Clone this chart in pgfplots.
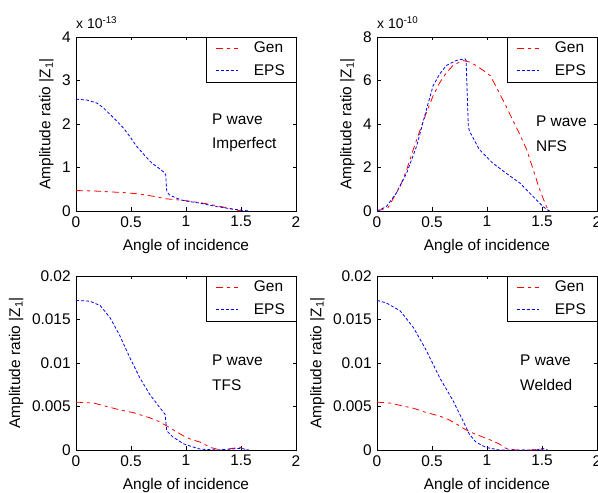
\documentclass[border=0pt]{standalone}
\usepackage{pgfplots}
\pgfplotsset{compat=1.18}
\usepackage{fontspec}
\setmainfont{Liberation Sans}
\newcommand{\fs}{\fontsize{15.5}{18}\selectfont}
\begin{document}
\fs
\begin{tikzpicture}[x=1bp,y=1bp]
\useasboundingbox (0,0) rectangle (598,493);
\tikzset{
  ann/.style={font=\fs, anchor=west, inner sep=0pt},
  expo/.style={anchor=base west, inner sep=0pt, font=\fontsize{14}{16}\selectfont, yshift=8bp},
}
\pgfplotsset{
  gen/.style={color=red, line width=0.8bp, dash pattern=on 7bp off 4bp on 3bp off 4bp},
  eps/.style={color=blue, line width=0.8bp, dash pattern=on 3bp off 2bp},
  legend image code/.code={\draw[#1] (0bp,0.5bp) -- (22bp,0.5bp);},
  myax/.style={
    width=220bp, height=174bp, scale only axis, anchor=south west, clip=false,
    xmin=0, xmax=2, xtick={0,0.5,1,1.5,2}, ymin=0,
    tick align=inside, major tick length=3.5bp, tick pos=both,
    axis line style={black, line width=0.6bp}, tick style={black, line width=0.6bp},
    every tick label/.append style={font=\fs},
    label style={font=\fs},
    /pgf/number format/assume math mode=true,
    xlabel={Angle of incidence},
    ylabel={Amplitude ratio |Z\textsubscript{1}|},
    xlabel style={yshift=-2bp},
    ylabel style={yshift=-2bp},
    legend style={at={(1,1)}, anchor=north east,
      font=\fs, cells={anchor=west}, inner xsep=9bp, inner ysep=3bp, row sep=5bp,
      column sep=14bp},
  },
}
% Top-left: Imperfect
\begin{axis}[myax, at={(76bp,282bp)}, ymax=4, ytick={0,1,2,3,4}]
\addplot[gen] coordinates {(0,0.47) (0.16,0.46) (0.31,0.44) (0.45,0.42) (0.58,0.39) (0.7,0.34) (0.82,0.28) (0.95,0.25) (1.05,0.22) (1.13,0.19) (1.2,0.16) (1.28,0.12) (1.36,0.08) (1.43,0.04) (1.5,0.0)};
\addlegendentry{Gen}
\addplot[eps] coordinates {(0,2.57) (0.1,2.55) (0.19,2.48) (0.25,2.37) (0.31,2.22) (0.37,2.07) (0.43,1.91) (0.49,1.71) (0.55,1.49) (0.62,1.29) (0.69,1.10) (0.75,0.99) (0.79,0.91) (0.815,0.84) (0.825,0.45) (0.85,0.37) (0.9,0.31) (0.96,0.25) (1.05,0.21) (1.13,0.18) (1.2,0.14) (1.28,0.10) (1.36,0.07) (1.43,0.04) (1.5,0.02) (1.57,0.0)};
\addlegendentry{EPS}
\node[ann] at (1.236,2.10) {P wave};
\node[ann] at (1.236,1.53) {Imperfect};
\node[expo] at (rel axis cs:0,1) {x 10\textsuperscript{-13}};
\end{axis}
% Top-right: NFS
\begin{axis}[myax, at={(377bp,282bp)}, ymax=8, ytick={0,2,4,6,8}]
\addplot[gen] coordinates {(0,0) (0.1,0.15) (0.21,1.13) (0.27,1.9) (0.33,2.83) (0.39,3.7) (0.45,4.53) (0.51,5.3) (0.57,5.9) (0.63,6.35) (0.69,6.69) (0.78,6.92) (0.84,6.85) (0.9,6.69) (0.97,6.45) (1.03,6.22) (1.11,5.45) (1.17,4.85) (1.23,4.22) (1.3,3.5) (1.36,2.83) (1.42,1.9) (1.48,0.97) (1.54,0.2) (1.57,0)};
\addlegendentry{Gen}
\addplot[eps] coordinates {(0,0) (0.085,0.2) (0.175,0.82) (0.27,1.75) (0.36,2.98) (0.45,4.68) (0.51,5.76) (0.57,6.3) (0.63,6.69) (0.72,6.92) (0.8,7.0) (0.81,6.92) (0.83,3.9) (0.84,3.68) (0.93,2.83) (1.05,2.21) (1.17,1.75) (1.3,1.28) (1.42,0.66) (1.51,0.2) (1.55,0.05) (1.57,0)};
\addlegendentry{EPS}
\node[ann] at (1.445,4.12) {P wave};
\node[ann] at (1.445,2.96) {NFS};
\node[expo] at (rel axis cs:0,1) {x 10\textsuperscript{-10}};
\end{axis}
% Bottom-left: TFS
\begin{axis}[myax, at={(76bp,43bp)}, ymax=0.02, ytick={0,0.005,0.01,0.015,0.02},
  scaled y ticks=false, yticklabel style={/pgf/number format/fixed, /pgf/number format/precision=3}]
\addplot[gen] coordinates {(0,0.0055) (0.16,0.0054) (0.31,0.0049) (0.4,0.0046) (0.52,0.0043) (0.67,0.0037) (0.75,0.0033) (0.82,0.0028) (0.9,0.0022) (0.98,0.0016) (1.05,0.0012) (1.13,0.0009) (1.22,0.0003) (1.31,0.0) (1.43,0.0002) (1.49,0.0003) (1.55,0.0)};
\addlegendentry{Gen}
\addplot[eps] coordinates {(0,0.0172) (0.127,0.0171) (0.22,0.0166) (0.31,0.0152) (0.4,0.0131) (0.49,0.0106) (0.58,0.0083) (0.67,0.0064) (0.76,0.0049) (0.81,0.0041) (0.825,0.0022) (0.88,0.0015) (0.98,0.0007) (1.05,0.0004) (1.13,0.0001) (1.28,0.0) (1.4,0.0001) (1.5,0.0002) (1.57,0.0)};
\addlegendentry{EPS}
\node[ann] at (1.236,0.0103) {P wave};
\node[ann] at (1.236,0.00743) {TFS};
\end{axis}
% Bottom-right: Welded
\begin{axis}[myax, at={(377bp,43bp)}, ymax=0.02, ytick={0,0.005,0.01,0.015,0.02},
  scaled y ticks=false, yticklabel style={/pgf/number format/fixed, /pgf/number format/precision=3}]
\addplot[gen] coordinates {(0,0.0055) (0.115,0.0054) (0.22,0.0051) (0.33,0.0048) (0.45,0.0043) (0.57,0.0039) (0.65,0.0035) (0.72,0.003) (0.81,0.0023) (0.88,0.0019) (0.96,0.0015) (1.04,0.0011) (1.11,0.0007) (1.17,0.0002) (1.26,0.0) (1.4,0.0) (1.5,0.0001) (1.55,0.0)};
\addlegendentry{Gen}
\addplot[eps] coordinates {(0,0.0172) (0.085,0.0169) (0.21,0.016) (0.33,0.0141) (0.45,0.0114) (0.57,0.0083) (0.69,0.0057) (0.78,0.0034) (0.84,0.0018) (0.9,0.0009) (0.99,0.0003) (1.11,0.0) (1.3,0.0) (1.45,0.0) (1.5,0.0002) (1.55,0.0)};
\addlegendentry{EPS}
\node[ann] at (1.3,0.0103) {P wave};
\node[ann] at (1.3,0.00743) {Welded};
\end{axis}
\end{tikzpicture}
\end{document}
